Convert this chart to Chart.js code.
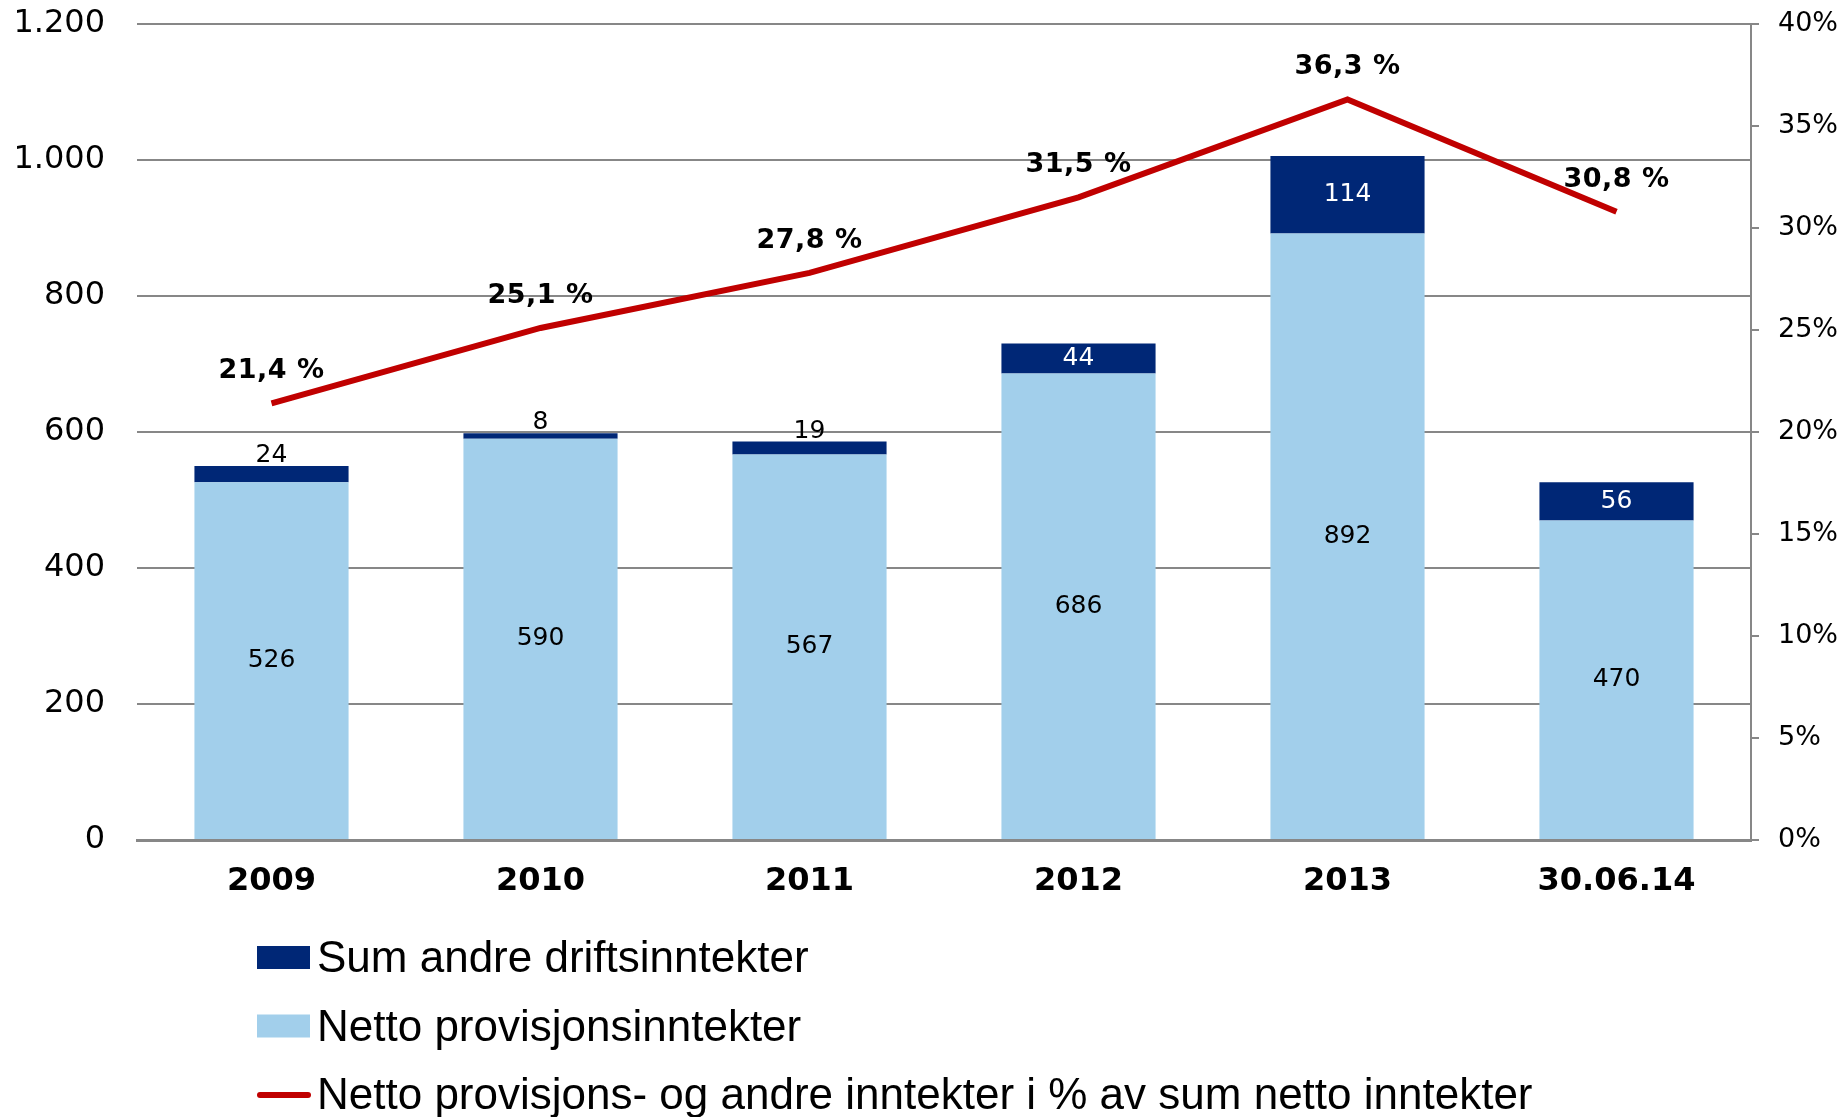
<!DOCTYPE html>
<html>
<head>
<meta charset="utf-8">
<script src="https://cdn.jsdelivr.net/npm/chart.js@4"></script>
<style>
    body { margin: 0; background: #fff; }
    canvas { display: block; }
</style>
</head>
<body>
<canvas id="chart" width="1843" height="1117"></canvas>
<script>
const years      = ['2009', '2010', '2011', '2012', '2013', '30.06.14']
const provisjon  = [526, 590, 567, 686, 892, 470]
const andre      = [24, 8, 19, 44, 114, 56]
const andel      = [21.4, 25.1, 27.8, 31.5, 36.3, 30.8]
const leftTicks  = [0, 1200, 200]
const rightTicks = [0, 40, 5]

const NAVY  = '#002776'
const LIGHT = '#a2cfeb'
const RED   = '#c00000'
const GRAY  = '#878787'
const FONT  = '"DejaVu Sans", Verdana, sans-serif'

const thousands = (v) => String(v).replace(/\B(?=(\d{3})+(?!\d))/g, '.')

// values on the bars and the line
const valueLabels = {
    id: 'valueLabels',
    afterDatasetsDraw(chart) {
        let ctx = chart.ctx
        ctx.save()
        ctx.textAlign = 'center'

        chart.getDatasetMeta(0).data.forEach((el, i) => {
            ctx.font = '25px ' + FONT
            ctx.fillStyle = '#000'
            ctx.textBaseline = 'middle'
            ctx.fillText(provisjon[i], el.x, (el.y + el.base) / 2)
        })

        chart.getDatasetMeta(1).data.forEach((el, i) => {
            ctx.font = '25px ' + FONT
            let h = el.base - el.y
            if (h > 25) {
                ctx.fillStyle = '#fff'
                ctx.textBaseline = 'middle'
                ctx.fillText(andre[i], el.x, (el.y + el.base) / 2)
            } else {
                ctx.fillStyle = '#000'
                ctx.textBaseline = 'bottom'
                ctx.fillText(andre[i], el.x, el.y + 2)
            }
        })

        ctx.letterSpacing = '0.5px'
        chart.getDatasetMeta(2).data.forEach((el, i) => {
            ctx.font = 'bold 27px ' + FONT
            ctx.fillStyle = '#000'
            ctx.textBaseline = 'middle'
            ctx.fillText(andel[i].toFixed(1).replace('.', ',') + ' %', el.x, el.y - 32)
        })
        ctx.restore()
    }
}

// one legend entry per row, below the axis
const rowLegend = {
    id: 'rowLegend',
    afterDraw(chart) {
        let ctx   = chart.ctx
        let items = [1, 0, 2]
        ctx.save()
        ctx.font = '44px "Liberation Sans", Arial, sans-serif'
        ctx.textBaseline = 'middle'
        ctx.textAlign = 'left'
        items.forEach((idx, row) => {
            let ds = chart.data.datasets[idx]
            let y  = 958 + row * 68.5
            if (ds.type === 'line') {
                ctx.strokeStyle = ds.borderColor
                ctx.lineWidth = 6
                ctx.lineCap = 'round'
                ctx.beginPath()
                ctx.moveTo(260, y)
                ctx.lineTo(308, y)
                ctx.stroke()
            } else {
                ctx.fillStyle = ds.backgroundColor
                ctx.fillRect(257, y - 12, 53, 23)
            }
            ctx.fillStyle = '#000'
            ctx.fillText(ds.label, 317, y + 2)
        })
        ctx.restore()
    }
}

// keep the plot box where the reference has it
const noTickPad = (scale) => {
    scale.paddingTop = 0
    scale.paddingBottom = 0
}

new Chart(document.getElementById('chart'), {
    type: 'bar',
    data: {
        labels: years,
        datasets: [
            {
                label: 'Netto provisjonsinntekter',
                data: provisjon,
                backgroundColor: LIGHT,
                stack: 's'
            },
            {
                label: 'Sum andre driftsinntekter',
                data: andre,
                backgroundColor: NAVY,
                stack: 's'
            },
            {
                type: 'line',
                label: 'Netto provisjons- og andre inntekter i % av sum netto inntekter',
                data: andel,
                yAxisID: 'y1',
                borderColor: RED,
                backgroundColor: RED,
                borderWidth: 6,
                pointRadius: 0,
                tension: 0,
                order: -1
            }
        ]
    },
    options: {
        responsive: false,
        devicePixelRatio: 1,
        animation: false,
        layout: { padding: { top: 24, right: 0, bottom: 0, left: 0 } },
        datasets: {
            bar: { categoryPercentage: 1, barPercentage: 0.573 }
        },
        plugins: {
            legend: { display: false },
            tooltip: { enabled: false }
        },
        scales: {
            x: {
                stacked: true,
                grid: { display: false, drawTicks: false },
                border: { display: true, color: GRAY, width: 3 },
                ticks: { color: '#000', padding: 22, font: { family: FONT, size: 32, weight: 'bold' } },
                afterFit(scale) { scale.height = 277 }
            },
            y: {
                stacked: true,
                min: leftTicks[0],
                max: leftTicks[1],
                ticks: {
                    stepSize: leftTicks[2],
                    color: '#000',
                    padding: 32,
                    font: { family: FONT, size: 32 },
                    callback: (v) => thousands(v)
                },
                grid: { color: GRAY, lineWidth: 2, drawTicks: false },
                border: { display: false },
                afterFit(scale) {
                    scale.width = 137
                    noTickPad(scale)
                }
            },
            y1: {
                position: 'right',
                min: rightTicks[0],
                max: rightTicks[1],
                ticks: {
                    stepSize: rightTicks[2],
                    color: '#000',
                    padding: 19,
                    font: { family: FONT, size: 27 },
                    callback: (v) => v + '%'
                },
                grid: { drawOnChartArea: false, drawTicks: true, tickLength: 8, color: GRAY, lineWidth: 2 },
                border: { display: true, color: GRAY, width: 2 },
                afterFit(scale) {
                    scale.width = 92
                    noTickPad(scale)
                }
            }
        }
    },
    plugins: [valueLabels, rowLegend]
})
</script>
</body>
</html>
